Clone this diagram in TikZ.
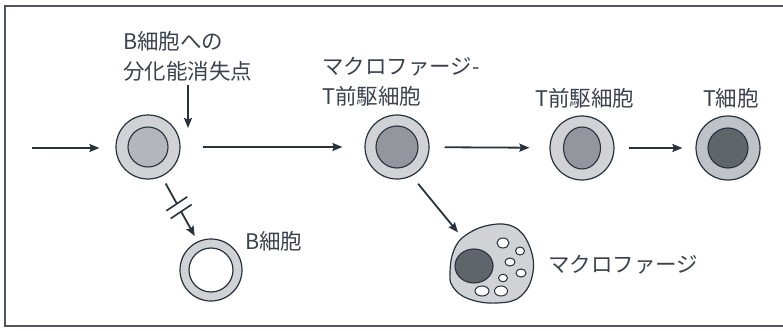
\documentclass[tikz,border=0pt]{standalone}
\usepackage{fontspec}
\newfontfamily\jp{Noto Sans CJK JP}
\usetikzlibrary{arrows.meta,shapes.geometric}
\definecolor{ink}{HTML}{28313C}
\definecolor{txt}{HTML}{3B424C}
\definecolor{frame}{HTML}{50565E}
\definecolor{cyto}{HTML}{D0D2D5}
\definecolor{cytodark}{HTML}{BFC2C6}
\definecolor{nucA}{HTML}{B3B6BA}
\definecolor{nucB}{HTML}{93979D}
\definecolor{nucC}{HTML}{60656C}
\tikzset{
  lbl/.style={font=\jp\fontsize{21.5}{30}\selectfont, text=txt, inner sep=0pt},
  cellbody/.style={circle, draw=ink, line width=1.2pt, fill=cyto, minimum size=64pt, inner sep=0pt},
  nucleus/.style={circle, draw=ink, line width=1.1pt, fill=nucA, minimum size=40pt, inner sep=0pt},
  arr/.style={draw=ink, line width=1.8pt, -{Stealth[length=10pt,width=8pt,inset=1.5pt]}},
  vac/.style={ellipse, draw=ink, line width=1pt, fill=white, inner sep=0pt},
  bar/.style={draw=ink, line width=1.6pt}
}
\begin{document}
\begin{tikzpicture}[x=1pt,y=-1pt]
\useasboundingbox (0,0) rectangle (783,331);
% open frame (top, left, bottom)
\draw[frame, line width=1.3pt] (783,6) -- (5,6) -- (5,326) -- (783,326);

% labels
\node[lbl, align=left, anchor=west] (lab1) at (123,56) {B細胞への\\分化能消失点};
\node[lbl, align=left, anchor=west] (lab2) at (322,82) {マクロファージ-\\T前駆細胞};
\node[lbl] (lab3) at (585,98) {T前駆細胞};
\node[lbl] (lab4) at (731,98) {T細胞};
\node[lbl, anchor=west] (labB) at (245,241) {B細胞};
\node[lbl, anchor=west] (labM) at (548,265) {マクロファージ};

% cells of the main row
\node[cellbody] (c1) at (148,147) {};
\node[nucleus, minimum size=40pt] (c1n) at (c1) {};
\node[cellbody] (c2) at (397,147) {};
\node[nucleus, fill=nucB, minimum size=42pt] (c2n) at (c2) {};
\node[cellbody] (c3) at (582,148) {};
\node[nucleus, ellipse, fill=nucB, minimum width=37pt, minimum height=42pt] (c3n) at (c3) {};
\node[cellbody, fill=cytodark] (c4) at (728,148) {};
\node[nucleus, fill=nucC, minimum size=40pt] (c4n) at (c4) {};

% B cell: ring with empty centre
\node[cellbody, minimum size=62pt] (bc) at (211,270) {};
\node[circle, draw=ink, line width=1.2pt, fill=white, minimum size=44pt, inner sep=0pt] (bcin) at (bc) {};

% macrophage: irregular body, nucleus and vacuoles
\node[ellipse, minimum width=84pt, minimum height=78pt, inner sep=0pt] (mac) at (491,264) {};
\draw[ink, line width=1.2pt, fill=cyto] plot[smooth cycle, tension=0.7] coordinates
  {(450,272) (454,250) (466,235) (490,225) (514,227) (529,245) (533,272) (521,296) (497,303) (469,299) (453,287)};
\node[nucleus, ellipse, fill=nucC, minimum width=38pt, minimum height=34pt] (macn) at (474,266) {};
\node[vac, minimum width=12pt, minimum height=10pt] (v1) at (503,243) {};
\node[vac, minimum width=9pt, minimum height=8pt] (v2) at (520,251) {};
\node[vac, minimum width=10pt, minimum height=8pt] (v3) at (510,262) {};
\node[vac, minimum width=10pt, minimum height=8pt] (v4) at (521,273) {};
\node[vac, minimum width=9pt, minimum height=7.5pt] (v5) at (503,278) {};
\node[vac, minimum width=14pt, minimum height=10pt] (v6) at (482,291) {};
\node[vac, minimum width=13pt, minimum height=10pt] (v7) at (501,291) {};

% connectors
\coordinate (in) at (32,148);
\draw[arr, shorten >=16pt] (in) -- (c1.west |- in);
\coordinate (p1) at (188,128);
\draw[arr, shorten <=4pt] (lab1.south -| p1) -- (p1);
\draw[arr, shorten <=22pt, shorten >=22pt] (c1) -- (c2);
\draw[arr, shorten <=15pt, shorten >=20pt] (c2) -- (c3);
\draw[arr, shorten <=14pt, shorten >=13pt] (c3) -- (c4);
\draw[arr, shorten <=10pt, shorten >=5pt] (c2.-63) -- (mac.north west);

% blocked route towards the B cell
\draw[arr, shorten <=8pt, shorten >=6pt] (c1.-65) -- (bc.115)
  coordinate[pos=0.42] (k1) coordinate[pos=0.54] (k2);
\draw[white, line width=4pt] (k1) -- (k2);
\draw[bar] ([shift={(-10.5,7)}]k1) -- ([shift={(10.5,-7)}]k1);
\draw[bar] ([shift={(-10.5,7)}]k2) -- ([shift={(10.5,-7)}]k2);
\end{tikzpicture}
\end{document}
